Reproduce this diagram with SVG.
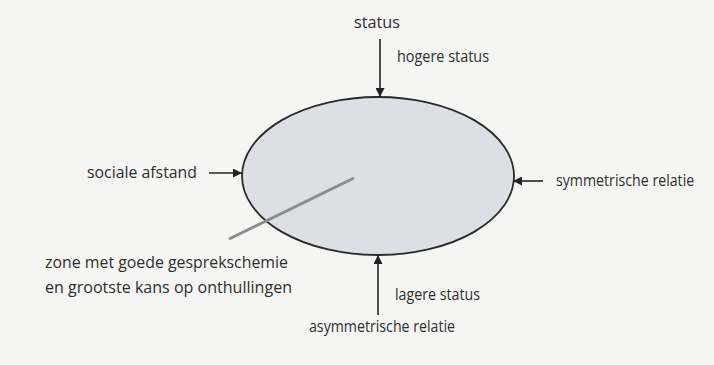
<svg xmlns="http://www.w3.org/2000/svg" width="714" height="365" viewBox="0 0 714 365">
<style>
.t{font-family:"Open Sans","Noto Sans",sans-serif;font-size:16.5px;fill:#2e2e2e}
.a{stroke:#222;stroke-width:1.6;fill:none}
</style>
<defs>
<marker id="ah" viewBox="0 0 10 10" refX="10" refY="5" markerWidth="10" markerHeight="9" markerUnits="userSpaceOnUse" orient="auto">
<path d="M0,0 L10,5 L0,10 z" fill="#222"/>
</marker>
</defs>
<rect width="714" height="365" fill="#f5f5f4"/>
<g id="zone">
<ellipse cx="378" cy="176" rx="136" ry="79" fill="#dcdfe5" stroke="#2a2a2a" stroke-width="1.8"/>
</g>
<g id="connectors">
<line class="a" x1="380" y1="39" x2="380" y2="97" marker-end="url(#ah)"/>
<line class="a" x1="209" y1="173" x2="242" y2="173" marker-end="url(#ah)"/>
<line class="a" x1="543" y1="181" x2="513" y2="181" marker-end="url(#ah)"/>
<line class="a" x1="378" y1="315" x2="378" y2="255" marker-end="url(#ah)"/>
<line x1="229" y1="239" x2="354" y2="178" stroke="#8c8c8c" stroke-width="3"/>
</g>
<g id="status"><text class="t" x="377" y="28" text-anchor="middle" textLength="46" lengthAdjust="spacingAndGlyphs">status</text></g>
<g id="hogere"><text class="t" x="397" y="62" textLength="92" lengthAdjust="spacingAndGlyphs">hogere status</text></g>
<g id="sociale"><text class="t" x="87" y="178" textLength="110" lengthAdjust="spacingAndGlyphs">sociale afstand</text></g>
<g id="symm"><text class="t" transform="translate(556,186) scale(0.86,1)" x="0" y="0">symmetrische relatie</text></g>
<g id="zonetext">
<text class="t" x="45" y="268" textLength="243" lengthAdjust="spacingAndGlyphs">zone met goede gesprekschemie</text>
<text class="t" x="45" y="293" textLength="247" lengthAdjust="spacingAndGlyphs">en grootste kans op onthullingen</text>
</g>
<g id="lagere"><text class="t" x="395" y="300" textLength="85" lengthAdjust="spacingAndGlyphs">lagere status</text></g>
<g id="asymm"><text class="t" x="309" y="332" textLength="146" lengthAdjust="spacingAndGlyphs">asymmetrische relatie</text></g>
</svg>
